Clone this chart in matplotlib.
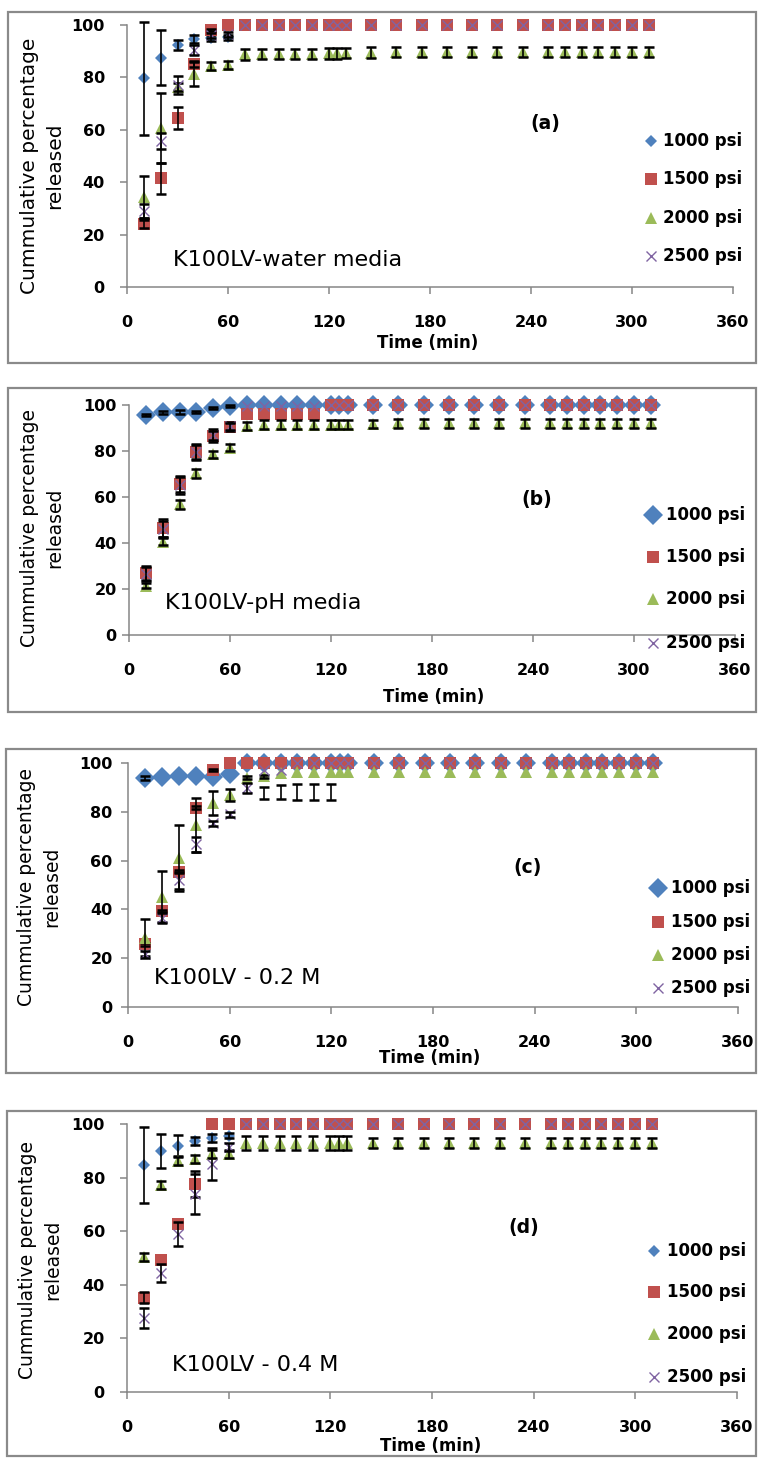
import matplotlib
matplotlib.use('Agg')
import matplotlib.pyplot as plt
from matplotlib.lines import Line2D
from matplotlib.patches import Rectangle

W, H = 760, 1459

# sampling times (min), same for every panel and series
time_min = [10, 20, 30, 40, 50, 60, 70, 80, 90, 100, 110, 120, 125, 130,
            145, 160, 175, 190, 205, 220, 235, 250, 260, 270, 280, 290, 300, 310]

series_names = ['1000 psi', '1500 psi', '2000 psi', '2500 psi']
colors = ['#4F81BD', '#C0504D', '#9BBB59', '#8064A2']
markers = ['D', 's', '^', 'x']

# ---- (a) K100LV-water media
a_1000 = [79.6, 87.5, 92.4, 94.5, 95.0, 95.3, 100, 100, 100, 100, 100, 100, 100, 100,
          100, 100, 100, 100, 100, 100, 100, 100, 100, 100, 100, 100, 100, 100]
a_1500 = [23.9, 41.5, 64.4, 85.1, 98.1, 100, 100, 100, 100, 100, 100, 100, 100, 100,
          100, 100, 100, 100, 100, 100, 100, 100, 100, 100, 100, 100, 100, 100]
a_2000 = [34.5, 60.8, 76.5, 81.3, 84.4, 84.7, 88.8, 88.9, 88.9, 89.0, 89.0, 89.2, 89.2, 89.3,
          89.5, 89.6, 89.6, 89.6, 89.6, 89.6, 89.6, 89.6, 89.6, 89.6, 89.6, 89.6, 89.6, 89.6]
a_2500 = [29.0, 55.7, 77.1, 90.5, 96.0, 96.5, 100, 100, 100, 100, 100, 100, 100, 100,
          100, 100, 100, 100, 100, 100, 100, 100, 100, 100, 100, 100, 100, 100]
a_1000_err = [21.5, 10.5, 2.0, 1.5, 1.0, 1.0, 0, 0, 0, 0, 0, 0, 0, 0,
              0, 0, 0, 0, 0, 0, 0, 0, 0, 0, 0, 0, 0, 0]
a_1500_err = [1.5, 6.0, 4.2, 1.0, 0.5, 0, 0, 0, 0, 0, 0, 0, 0, 0,
              0, 0, 0, 0, 0, 0, 0, 0, 0, 0, 0, 0, 0, 0]
a_2000_err = [8.0, 13.3, 1.5, 4.5, 1.5, 1.5, 2.0, 2.0, 2.0, 2.0, 2.0, 2.0, 2.0, 2.0,
              2.0, 2.0, 2.0, 2.0, 2.0, 2.0, 2.0, 2.0, 2.0, 2.0, 2.0, 2.0, 2.0, 2.0]
a_2500_err = [2.5, 3.0, 3.5, 2.0, 1.0, 1.0, 0, 0, 0, 0, 0, 0, 0, 0,
              0, 0, 0, 0, 0, 0, 0, 0, 0, 0, 0, 0, 0, 0]

# ---- (b) K100LV-pH media
b_1000 = [95.7, 96.8, 96.9, 97.1, 98.6, 99.6, 100, 100, 100, 100, 100, 100, 100, 100,
          100, 100, 100, 100, 100, 100, 100, 100, 100, 100, 100, 100, 100, 100]
b_1500 = [26.8, 46.4, 65.5, 79.4, 86.7, 90.6, 96.0, 96.0, 96.0, 96.0, 96.2, 100, 100, 100,
          100, 100, 100, 100, 100, 100, 100, 100, 100, 100, 100, 100, 100, 100]
b_2000 = [21.4, 40.6, 56.8, 70.3, 78.6, 81.5, 91.0, 91.5, 91.5, 91.5, 91.5, 91.5, 91.5, 91.5,
          91.8, 92.0, 92.0, 92.0, 92.0, 92.0, 92.0, 92.0, 92.0, 92.0, 92.0, 92.0, 92.0, 92.0]
b_2500 = [26.5, 46.2, 65.3, 79.6, 86.9, 90.8, 99.5, 99.6, 99.6, 99.7, 99.7, 100, 100, 100,
          100, 100, 100, 100, 100, 100, 100, 100, 100, 100, 100, 100, 100, 100]
b_1000_err = [0.5, 0.5, 1.0, 0.5, 0.5, 0.3, 0, 0, 0, 0, 0, 0, 0, 0,
              0, 0, 0, 0, 0, 0, 0, 0, 0, 0, 0, 0, 0, 0]
b_1500_err = [3.0, 4.0, 3.3, 3.5, 3.0, 2.0, 0, 0, 0, 0, 0, 0, 0, 0,
              0, 0, 0, 0, 0, 0, 0, 0, 0, 0, 0, 0, 0, 0]
b_2000_err = [1.0, 1.5, 2.0, 2.0, 1.5, 1.5, 1.8, 1.8, 1.8, 1.8, 1.8, 1.8, 1.8, 1.8,
              1.8, 1.8, 1.8, 1.8, 1.8, 1.8, 1.8, 1.8, 1.8, 1.8, 1.8, 1.8, 1.8, 1.8]
b_2500_err = [3.0, 3.5, 4.0, 3.0, 2.0, 1.5, 0, 0, 0, 0, 0, 0, 0, 0,
              0, 0, 0, 0, 0, 0, 0, 0, 0, 0, 0, 0, 0, 0]

# ---- (c) K100LV - 0.2 M
c_1000 = [94.0, 94.4, 94.5, 94.6, 94.3, 95.5, 100, 100, 100, 100, 100, 100, 100, 100,
          100, 100, 100, 100, 100, 100, 100, 100, 100, 100, 100, 100, 100, 100]
c_1500 = [25.7, 39.3, 55.5, 81.7, 97.1, 99.9, 100, 100, 100, 100, 100, 100, 100, 100,
          100, 100, 100, 100, 100, 100, 100, 100, 100, 100, 100, 100, 100, 100]
c_2000 = [28.4, 45.2, 60.9, 74.6, 83.5, 86.9, 94.0, 94.5, 95.8, 96.4, 96.4, 96.4, 96.4, 96.4,
          96.4, 96.4, 96.4, 96.4, 96.4, 96.4, 96.4, 96.4, 96.4, 96.4, 96.4, 96.4, 96.4, 96.4]
c_2500 = [21.6, 36.6, 52.0, 66.7, 75.3, 79.0, 89.6, 97.0, 97.0, 100, 100, 100, 100, 100,
          100, 100, 100, 100, 100, 100, 100, 100, 100, 100, 100, 100, 100, 100]
c_1000_err = [0.8, 0, 0, 0, 0, 0, 0, 0, 0, 0, 0, 0, 0, 0,
              0, 0, 0, 0, 0, 0, 0, 0, 0, 0, 0, 0, 0, 0]
c_1500_err = [0.5, 0.5, 0.5, 0.5, 0.5, 0, 0, 0, 0, 0, 0, 0, 0, 0,
              0, 0, 0, 0, 0, 0, 0, 0, 0, 0, 0, 0, 0, 0]
c_2000_err = [7.5, 10.5, 13.5, 11.0, 5.0, 2.5, 0.5, 0.5, 0, 0, 0, 0, 0, 0,
              0, 0, 0, 0, 0, 0, 0, 0, 0, 0, 0, 0, 0, 0]
c_2500_err = [1.5, 2.0, 3.5, 3.0, 1.0, 1.0, 2.0, 0, 0, 0, 0, 0, 0, 0,
              0, 0, 0, 0, 0, 0, 0, 0, 0, 0, 0, 0, 0, 0]
# stray error bars drawn without a visible marker in (c)
c_bar_t = [80, 90, 100, 110, 120]
c_bar_lo = [85.2, 85.4, 84.8, 84.8, 84.8]
c_bar_hi = [90.3, 91.0, 91.3, 91.3, 91.3]

# ---- (d) K100LV - 0.4 M
d_1000 = [84.7, 89.9, 91.9, 93.7, 94.7, 95.6, 100, 100, 100, 100, 100, 100, 100, 100,
          100, 100, 100, 100, 100, 100, 100, 100, 100, 100, 100, 100, 100, 100]
d_1500 = [35.2, 49.3, 62.6, 77.6, 100, 100, 100, 100, 100, 100, 100, 100, 100, 100,
          100, 100, 100, 100, 100, 100, 100, 100, 100, 100, 100, 100, 100, 100]
d_2000 = [50.5, 77.2, 86.2, 86.8, 88.7, 88.7, 92.8, 92.8, 92.8, 92.8, 92.8, 92.8, 92.8, 92.8,
          92.8, 92.8, 92.8, 92.8, 92.8, 92.8, 92.8, 92.8, 92.8, 92.8, 92.8, 92.8, 92.8, 92.8]
d_2500 = [27.5, 44.5, 59.0, 73.8, 85.0, 91.3, 100, 100, 100, 100, 100, 100, 100, 100,
          100, 100, 100, 100, 100, 100, 100, 100, 100, 100, 100, 100, 100, 100]
d_1000_err = [14.0, 6.3, 3.9, 1.5, 1.5, 1.0, 0, 0, 0, 0, 0, 0, 0, 0,
              0, 0, 0, 0, 0, 0, 0, 0, 0, 0, 0, 0, 0, 0]
d_1500_err = [2.0, 0, 0, 5.0, 0, 0, 0, 0, 0, 0, 0, 0, 0, 0,
              0, 0, 0, 0, 0, 0, 0, 0, 0, 0, 0, 0, 0, 0]
d_2000_err = [1.5, 1.5, 1.5, 1.5, 1.5, 1.5, 2.6, 2.6, 2.6, 2.6, 2.6, 2.6, 2.6, 2.6,
              1.8, 1.8, 1.8, 1.8, 1.8, 1.8, 1.8, 1.8, 1.8, 1.8, 1.8, 1.8, 1.8, 1.8]
d_2500_err = [3.8, 3.3, 4.5, 7.5, 6.0, 1.5, 0, 0, 0, 0, 0, 0, 0, 0,
              0, 0, 0, 0, 0, 0, 0, 0, 0, 0, 0, 0, 0, 0]

x_ticks = [0, 60, 120, 180, 240, 300, 360]
y_ticks = [0, 20, 40, 60, 80, 100]

panels = [
    dict(vals=[a_1000, a_1500, a_2000, a_2500], errs=[a_1000_err, a_1500_err, a_2000_err, a_2500_err],
         axbox=(127, 733, 25, 287), frame=(8, 12, 756, 363), tag='(a)', tag_xy=(545, 123),
         note='K100LV-water media', note_xy=(173, 260), ylab_xy=(42, 166), ylab_fs=14.5,
         xlab_xy=(428, 343), leg_x=651, leg_tx=663, leg_y=[141, 179, 218, 256],
         ms=[6, 8.5, 9, 6.5], ypad=11),
    dict(vals=[b_1000, b_1500, b_2000, b_2500], errs=[b_1000_err, b_1500_err, b_2000_err, b_2500_err],
         axbox=(129, 735, 405, 635), frame=(8, 388, 756, 712), tag='(b)', tag_xy=(537, 500),
         note='K100LV-pH media', note_xy=(165, 603), ylab_xy=(42, 528), ylab_fs=13.5,
         xlab_xy=(434, 697), leg_x=653, leg_tx=666, leg_y=[515, 557, 599, 643],
         ms=[10, 8.5, 9, 6.5], ypad=4),
    dict(vals=[c_1000, c_1500, c_2000, c_2500], errs=[c_1000_err, c_1500_err, c_2000_err, c_2500_err],
         axbox=(128, 738, 763, 1007), frame=(6, 749, 756, 1073), tag='(c)', tag_xy=(528, 868),
         note='K100LV - 0.2 M', note_xy=(154, 978), ylab_xy=(39, 887), ylab_fs=13.5,
         xlab_xy=(430, 1058), leg_x=658, leg_tx=671, leg_y=[888, 922, 955, 988],
         ms=[10, 9, 9, 6.5], ypad=6),
    dict(vals=[d_1000, d_1500, d_2000, d_2500], errs=[d_1000_err, d_1500_err, d_2000_err, d_2500_err],
         axbox=(127, 737, 1124, 1392), frame=(7, 1111, 756, 1456), tag='(d)', tag_xy=(524, 1228),
         note='K100LV - 0.4 M', note_xy=(172, 1365), ylab_xy=(40, 1260), ylab_fs=13.5,
         xlab_xy=(431, 1446), leg_x=654, leg_tx=667, leg_y=[1251, 1292, 1334, 1377],
         ms=[6, 9, 9, 6.5], ypad=11),
]


def fx(x):
    return x / W


def fy(y):
    return 1 - y / H


fig = plt.figure(figsize=(W / 100, H / 100), dpi=100)
gray = '#868686'

for k, p in enumerate(panels):
    l, t, r, b = p['frame']
    fig.add_artist(Rectangle((fx(l), fy(b)), (r - l) / W, (b - t) / H, transform=fig.transFigure,
                             fill=False, ec='#8a8a8a', lw=1.6))

    x0, x1, y100, y0 = p['axbox']
    ax = fig.add_axes([fx(x0), fy(y0), (x1 - x0) / W, (y0 - y100) / H])
    ax.set_xlim(0, 360); ax.set_ylim(0, 100)
    ax.patch.set_alpha(0)
    for s in ['top', 'right']:
        ax.spines[s].set_visible(False)
    for s in ['left', 'bottom']:
        ax.spines[s].set_color(gray); ax.spines[s].set_linewidth(1.1)
    ax.set_xticks(x_ticks); ax.set_yticks(y_ticks)
    ax.tick_params(axis='x', direction='out', length=5, width=1.1, color=gray, pad=15,
                   labelsize=11.5)
    ax.tick_params(axis='y', direction='out', length=5, width=1.1, color=gray, pad=p['ypad'],
                   labelsize=11.5)
    for lab in ax.get_xticklabels() + ax.get_yticklabels():
        lab.set_fontweight('bold')

    for i in range(4):
        mew = 1.0 if markers[i] == 'x' else 0
        ax.plot(time_min, p['vals'][i], linestyle='none', marker=markers[i], ms=p['ms'][i],
                color=colors[i], mew=mew, clip_on=False, zorder=3 + i)
        et = [tt for tt, e in zip(time_min, p['errs'][i]) if e > 0]
        ev = [v for v, e in zip(p['vals'][i], p['errs'][i]) if e > 0]
        ee = [e for e in p['errs'][i] if e > 0]
        ax.errorbar(et, ev, yerr=ee, fmt='none', ecolor='black', elinewidth=1.2, capsize=3.3,
                    capthick=1.8, zorder=3.5 + i, clip_on=False)

    if k == 2:
        mid = [(lo + hi) / 2 for lo, hi in zip(c_bar_lo, c_bar_hi)]
        half = [(hi - lo) / 2 for lo, hi in zip(c_bar_lo, c_bar_hi)]
        ax.errorbar(c_bar_t, mid, yerr=half, fmt='none', ecolor='black', elinewidth=1.2,
                    capsize=3.3, capthick=1.8, zorder=7)

    fig.text(fx(p['tag_xy'][0]), fy(p['tag_xy'][1]), p['tag'], ha='center', va='center',
             fontsize=13.5, fontweight='bold')
    fig.text(fx(p['note_xy'][0]), fy(p['note_xy'][1]), p['note'], ha='left', va='center',
             fontsize=16)
    fig.text(fx(p['ylab_xy'][0]), fy(p['ylab_xy'][1]), 'Cummulative percentage\nreleased',
             ha='center', va='center', rotation=90, fontsize=p['ylab_fs'], linespacing=1.45,
             multialignment='center')
    fig.text(fx(p['xlab_xy'][0]), fy(p['xlab_xy'][1]), 'Time (min)', ha='center', va='center',
             fontsize=12, fontweight='bold')

    for i, name in enumerate(series_names):
        yy = p['leg_y'][i]
        mew = 1.0 if markers[i] == 'x' else 0
        fig.add_artist(Line2D([fx(p['leg_x'])], [fy(yy)], marker=markers[i], ms=p['ms'][i],
                              color=colors[i], mew=mew, linestyle='none',
                              transform=fig.transFigure))
        fig.text(fx(p['leg_tx']), fy(yy), name, ha='left', va='center', fontsize=12,
                 fontweight='bold')

fig.savefig('out.png', dpi=100)
